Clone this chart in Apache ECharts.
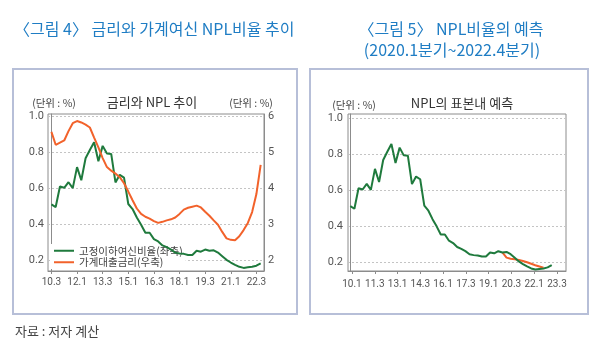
<!DOCTYPE html>
<html><head><meta charset="utf-8">
<script src="https://cdn.jsdelivr.net/npm/echarts@6/dist/echarts.min.js"></script>
<style>html,body{margin:0;padding:0;background:#fff}#c{width:600px;height:354px}</style>
</head><body><div id="c"></div>
<script>
const KR = '"Noto Sans CJK KR", "Noto Sans", sans-serif';
const NUM = 'Roboto, "Liberation Sans", sans-serif';

// ---- data ----
const leftTickLabels = ['10.3','12.1','13.3','15.1','16.3','18.1','19.3','21.1','22.3'];
const rightTickLabels = ['10.1','11.3','13.1','14.3','16.1','17.3','19.1','20.3','22.1','23.3'];
const nplTicks = [0.2, 0.4, 0.6, 0.8, 1.0];
const rateTicks = [2, 3, 4, 5, 6];
const seriesNames = ['고정이하여신비율(좌축)', '가계대출금리(우축)'];

// 고정이하여신비율 (%), quarterly
const nplRatio = [0.513,0.498,0.612,0.605,0.636,0.603,0.72,0.647,0.769,0.815,
  0.858,0.752,0.838,0.795,0.793,0.635,0.677,0.662,0.515,0.487,
  0.44,0.40,0.355,0.355,0.32,0.307,0.285,0.275,0.262,0.245,
  0.24,0.238,0.232,0.232,0.255,0.25,0.262,0.255,0.258,0.245,
  0.225,0.205,0.19,0.177,0.166,0.16,0.163,0.166,0.172,0.185];
// 가계대출금리 (%), quarterly
const loanRate = [5.58,5.22,5.28,5.34,5.6,5.82,5.88,5.84,5.78,5.7,
  5.42,5.15,4.85,4.6,4.5,4.42,4.32,4.15,3.92,3.68,
  3.45,3.3,3.22,3.17,3.1,3.05,3.08,3.12,3.15,3.2,
  3.3,3.42,3.47,3.5,3.53,3.48,3.36,3.25,3.12,3.0,
  2.8,2.62,2.58,2.57,2.68,2.85,3.05,3.35,3.85,4.66];
// 표본내 예측 (2020.1~2022.4)
const forecastStart = 37;
const nplForecast = [0.255,0.226,0.22,0.217,0.213,0.207,0.2,0.192,0.184,0.177,0.17];

const GREEN = '#1f7a3d', ORANGE = '#f2622b';
const AX = '#8c8c8c', LBL = '#555';

const pts = arr => arr.map((v, i) => [i, v]);
const fcPts = nplForecast.map((v, k) => [forecastStart + k, v]);
const xLeftVals = leftTickLabels.map((_, k) => k * 6);
const xRightVals = rightTickLabels.map((_, k) => k * 6);

const chart = echarts.init(document.getElementById('c'), null, {renderer: 'canvas'});

const gridBase = {show: true, borderColor: AX, borderWidth: 1, backgroundColor: '#fff', outerBoundsMode: 'none', containLabel: false};
const splitDotted = {show: true, lineStyle: {color: '#c4c4c4', type: [2, 2], width: 1}};
const yLbl = {color: LBL, fontSize: 11, fontFamily: NUM};
const xLbl = {color: LBL, fontSize: 10, fontFamily: NUM};

function txt(text, x, y, font, fill, align) {
  return {type: 'text', x: x, y: y, silent: true,
    style: {text: text, font: font, fill: fill, align: align || 'left', verticalAlign: 'middle'}};
}

chart.setOption({
  animation: false,
  backgroundColor: '#fff',
  graphic: [
    {type: 'rect', shape: {x: 13, y: 69, width: 284, height: 245}, style: {fill: 'none', stroke: '#b7bfd8', lineWidth: 2}, silent: true, z: -1},
    {type: 'rect', shape: {x: 310, y: 69, width: 278, height: 245}, style: {fill: 'none', stroke: '#b7bfd8', lineWidth: 2}, silent: true, z: -1},
    txt('〈그림 4〉 금리와 가계여신 NPL비율 추이', 14, 29, '400 16px ' + KR, '#1f7dc4'),
    txt('〈그림 5〉 NPL비율의 예측', 451, 29, '400 16px ' + KR, '#1f7dc4', 'center'),
    txt('(2020.1분기~2022.4분기)', 452, 50, '400 16px ' + KR, '#1f7dc4', 'center'),
    txt('금리와 NPL 추이', 152, 102, '13px ' + KR, '#333', 'center'),
    txt('NPL의 표본내 예측', 462, 103, '13px ' + KR, '#333', 'center'),
    txt('(단위 : %)', 54, 103, '10.5px ' + KR, '#444', 'center'),
    txt('(단위 : %)', 251, 103, '10.5px ' + KR, '#444', 'center'),
    txt('(단위 : %)', 354, 105, '10.5px ' + KR, '#444', 'center'),
    txt('자료 : 저자 계산', 15, 331, '13px ' + KR, '#444')
  ],
  grid: [
    Object.assign({left: 48, top: 114, width: 216, height: 157}, gridBase),
    Object.assign({left: 348, top: 114, width: 218, height: 157}, gridBase)
  ],
  xAxis: [
    {type: 'value', gridIndex: 0, min: -0.8, max: 49.78, position: 'bottom',
      axisLine: {show: true, lineStyle: {color: AX}},
      axisTick: {show: true, length: 3, lineStyle: {color: AX}, customValues: xLeftVals},
      axisLabel: Object.assign({margin: 6, customValues: xLeftVals, hideOverlap: false,
        formatter: v => leftTickLabels[Math.round(v / 6)]}, xLbl),
      splitLine: {show: false}},
    {type: 'value', gridIndex: 1, min: -0.56, max: 52.47, show: false, position: 'bottom',
      splitLine: {show: false}},
    {type: 'value', gridIndex: 1, min: -1.05, max: 56.37, position: 'bottom',
      axisLine: {show: true, lineStyle: {color: AX}},
      axisTick: {show: true, length: 3, lineStyle: {color: AX}, customValues: xRightVals},
      axisLabel: Object.assign({margin: 8, customValues: xRightVals, hideOverlap: false,
        formatter: v => rightTickLabels[Math.round(v / 6)]}, xLbl),
      splitLine: {show: false}}
  ],
  yAxis: [
    {type: 'value', gridIndex: 0, min: 0.1428, max: 1.015, position: 'left',
      axisLine: {show: true, lineStyle: {color: AX}},
      axisTick: {show: false, customValues: nplTicks},
      axisLabel: Object.assign({margin: 4, customValues: nplTicks, formatter: v => v.toFixed(1)}, yLbl),
      splitLine: splitDotted},
    {type: 'value', gridIndex: 0, min: 1.714, max: 6.075, position: 'right',
      axisLine: {show: true, lineStyle: {color: AX}},
      axisTick: {show: false, customValues: rateTicks},
      axisLabel: Object.assign({margin: 4, customValues: rateTicks, formatter: v => String(v)}, yLbl),
      splitLine: {show: false}},
    {type: 'value', gridIndex: 1, min: 0.1517, max: 1.025, position: 'left',
      axisLine: {show: true, lineStyle: {color: AX}},
      axisTick: {show: false, customValues: nplTicks},
      axisLabel: Object.assign({margin: 5, customValues: nplTicks, formatter: v => v.toFixed(1)}, yLbl),
      splitLine: splitDotted}
  ],
  legend: {
    data: seriesNames, orient: 'vertical', left: 51, top: 244,
    icon: 'rect', itemWidth: 20, itemHeight: 2, itemGap: 0, padding: [1, 3],
    backgroundColor: '#fff', z: 1,
    textStyle: {color: '#444', fontSize: 10.5, fontFamily: KR, lineHeight: 11.5}
  },
  series: [
    {name: seriesNames[0], type: 'line', xAxisIndex: 0, yAxisIndex: 0, data: pts(nplRatio), z: 3,
      symbol: 'none', lineStyle: {color: GREEN, width: 2}, itemStyle: {color: GREEN}},
    {name: seriesNames[1], type: 'line', xAxisIndex: 0, yAxisIndex: 1, data: pts(loanRate), z: 3,
      symbol: 'none', lineStyle: {color: ORANGE, width: 2}, itemStyle: {color: ORANGE}},
    {name: '예측', type: 'line', xAxisIndex: 1, yAxisIndex: 2, data: fcPts, z: 3,
      symbol: 'none', lineStyle: {color: ORANGE, width: 2}, itemStyle: {color: ORANGE}},
    {name: '실제', type: 'line', xAxisIndex: 1, yAxisIndex: 2, data: pts(nplRatio), z: 3,
      symbol: 'none', lineStyle: {color: GREEN, width: 2}, itemStyle: {color: GREEN}}
  ]
});
</script>
</body></html>
